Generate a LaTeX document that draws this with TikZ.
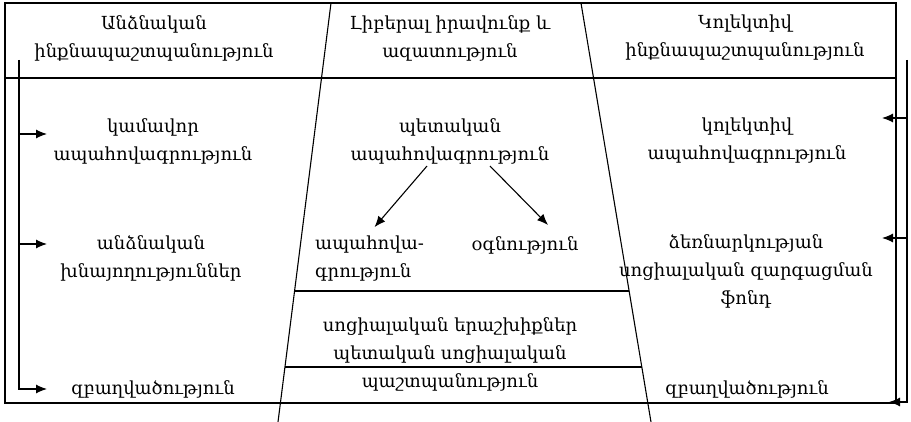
\documentclass[tikz,border=0pt]{standalone}
\usepackage{fontspec}
\setmainfont{DejaVu Serif}
\usepackage{tikz}
\usetikzlibrary{positioning,arrows.meta}

\tikzset{
  txt/.style={align=center, font=\fontsize{18}{28}\selectfont, inner sep=2pt},
  arr/.style={-{Latex[length=11pt,width=9pt]}},
  ln/.style={line width=1.1pt}
}

\begin{document}
\begin{tikzpicture}[x=1pt,y=-1pt]
\useasboundingbox (0,0) rectangle (911,422);
% frame
\draw[ln] (5,3) rectangle (896,403);
\draw[ln] (5,78) -- (896,78);
\draw[ln] (331,3) -- (278,422);
\draw[ln] (581,3) -- (651,422);
\draw[ln] (294.6,291) -- (629.1,291);
\draw[ln] (285,367) -- (641.8,367);

% headers
\node[txt] (h1) at (154,38) {Անձնական\\ինքնապաշտպանություն};
\node[txt] (h2) at (450,38) {Լիբերալ իրավունք և\\ազատություն};
\node[txt] (h3) at (745,38) {Կոլեկտիվ\\ինքնապաշտպանություն};

% left column
\node[txt] (kam) at (153,141) {կամավոր\\ապահովագրություն};
\node[txt] (ann) at (151,258) {անձնական\\խնայողություններ};
\node[txt] (zb1) at (153,389) {զբաղվածություն};

% middle column
\node[txt] (pet) at (450,141) {պետական\\ապահովագրություն};
\node[txt,align=left,anchor=west] (apa) at (313,259) {ապահովա-\\գրություն};
\node[txt] (ogn) at (525,245) {օգնություն};
\node[txt] (soc) at (450,354) {սոցիալական երաշխիքներ\\պետական սոցիալական\\պաշտպանություն};

% right column
\node[txt] (kol) at (747,141) {կոլեկտիվ\\ապահովագրություն};
\node[txt] (dze) at (746,271) {ձեռնարկության\\սոցիալական զարգացման\\ֆոնդ};
\node[txt] (zb2) at (747,389) {զբաղվածություն};

\draw[ln,arr] ([xshift=-23pt]pet.south) -- ([xshift=5pt,yshift=7pt]apa.north);
\draw[ln,arr] ([xshift=40pt]pet.south) -- ([xshift=23pt,yshift=9pt]ogn.north);

% left feedback line
\coordinate (ltop) at (19,60);
\coordinate (lt1) at (47,134);
\coordinate (lt2) at (47,244);
\coordinate (lt3) at (47,389);
\draw[ln,arr] (ltop) |- (lt3);
\draw[ln,arr] (lt1 -| ltop) -- (lt1);
\draw[ln,arr] (lt2 -| ltop) -- (lt2);

% right feedback line
\coordinate (rtop) at (907,60);
\coordinate (rend) at (889,402);
\coordinate (ra1) at (882,118);
\coordinate (ra2) at (882,238);
\draw[ln,arr] (rtop) |- (rend);
\draw[ln,arr] (ra1 -| rtop) -- (ra1);
\draw[ln,arr] (ra2 -| rtop) -- (ra2);
\end{tikzpicture}
\end{document}
